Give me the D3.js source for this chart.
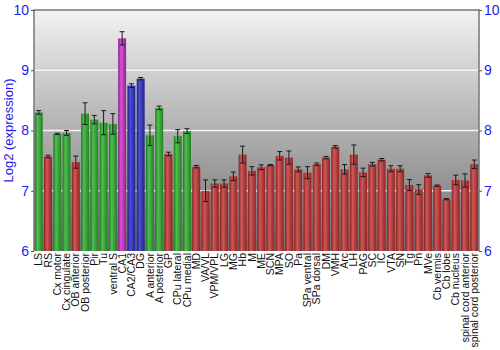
<!DOCTYPE html>
<html>
<head>
<meta charset="utf-8">
<script src="https://cdn.jsdelivr.net/npm/d3@7"></script>
<style>
  body { margin: 0; background: #fff; }
  text { font-family: "Liberation Sans", Arial, sans-serif; }
</style>
</head>
<body>
<div id="chart"></div>
<script>
const regions = ["LS", "RS", "Cx motor", "Cx cingulate", "OB anterior", "OB posterior", "Pir", "Tu",
  "ventral S", "CA1", "CA2/CA3", "DG", "A anterior", "A posterior", "GP", "CPu lateral", "CPu medial",
  "MD", "VA/VL", "VPM/VPL", "LG", "MG", "Hb", "M", "ME", "SCN", "MPA", "SO", "Pa", "SPa ventral",
  "SPa dorsal", "DM", "VMH", "Arc", "LH", "PAG", "SC", "IC", "VTA", "SN", "Tg", "Pn", "MVe",
  "Cb vermis", "Cb lobe", "Cb nucleus", "spinal cord anterior", "spinal cord posterior"];

const values = [8.30, 7.57, 7.945, 7.96, 7.475, 8.28, 8.18, 8.13,
  8.11, 9.53, 8.745, 8.86, 7.92, 8.375, 7.61, 7.905, 7.99,
  7.40, 7.00, 7.12, 7.12, 7.24, 7.60, 7.33, 7.39, 7.425, 7.58, 7.55, 7.355, 7.30,
  7.44, 7.55, 7.73, 7.355, 7.60, 7.305, 7.44, 7.515, 7.365, 7.365, 7.095, 7.02, 7.255,
  7.085, 6.86, 7.18, 7.17, 7.44];

const errors = [0.03, 0.02, 0.01, 0.04, 0.10, 0.18, 0.07, 0.20,
  0.17, 0.11, 0.03, 0.02, 0.17, 0.03, 0.03, 0.11, 0.04,
  0.02, 0.18, 0.06, 0.06, 0.07, 0.14, 0.07, 0.04, 0.01, 0.07, 0.11, 0.04, 0.10,
  0.02, 0.02, 0.02, 0.08, 0.16, 0.07, 0.03, 0.02, 0.05, 0.05, 0.09, 0.08, 0.03,
  0.01, 0.01, 0.08, 0.11, 0.07];

// g = green, r = red, m = magenta, b = blue
const groups = ["g", "r", "g", "g", "r", "g", "g", "g",
  "g", "m", "b", "b", "g", "g", "r", "g", "g",
  "r", "r", "r", "r", "r", "r", "r", "r", "r", "r", "r", "r", "r",
  "r", "r", "r", "r", "r", "r", "r", "r", "r", "r", "r", "r", "r",
  "r", "r", "r", "r", "r"];

const yTicks = [6, 7, 8, 9, 10];

const palette = {
  g: ["#1f7a1f", "#4fbf4f", "#237f23"],
  r: ["#8a1f1f", "#d05858", "#8e2424"],
  m: ["#8f1a8f", "#d555d5", "#941e94"],
  b: ["#1e1e8a", "#4d4dd2", "#22228f"]
};

const W = 500, H = 350;
const margin = { top: 10, right: 21, bottom: 99, left: 34 };
const width = W - margin.left - margin.right;
const height = H - margin.top - margin.bottom;

const svg = d3.select("#chart").append("svg")
  .attr("width", W)
  .attr("height", H);

const defs = svg.append("defs");
const bg = defs.append("linearGradient").attr("id", "bg")
  .attr("x1", 0).attr("y1", 0).attr("x2", 0).attr("y2", 1);
bg.append("stop").attr("offset", "0%").attr("stop-color", "#f2f2f2");
bg.append("stop").attr("offset", "100%").attr("stop-color", "#6e6e6e");

Object.keys(palette).forEach(k => {
  const lg = defs.append("linearGradient").attr("id", "bar-" + k)
    .attr("x1", 0).attr("y1", 0).attr("x2", 1).attr("y2", 0);
  lg.append("stop").attr("offset", "0%").attr("stop-color", palette[k][0]);
  lg.append("stop").attr("offset", "35%").attr("stop-color", palette[k][1]);
  lg.append("stop").attr("offset", "100%").attr("stop-color", palette[k][2]);
});

const g = svg.append("g").attr("transform", `translate(${margin.left},${margin.top})`);

const x = d3.scaleBand()
  .domain(regions)
  .range([0, width])
  .paddingInner(0.14)
  .paddingOuter(0.08);

const y = d3.scaleLinear()
  .domain([6, 10])
  .range([height, 0]);

g.append("rect")
  .attr("width", width)
  .attr("height", height)
  .attr("fill", "url(#bg)");

// gridlines
g.selectAll(".grid")
  .data(yTicks.filter(t => t > 6 && t < 10))
  .enter().append("line")
  .attr("x1", 0).attr("x2", width)
  .attr("y1", d => y(d)).attr("y2", d => y(d))
  .attr("stroke", "#f4f4f4")
  .attr("stroke-width", 1.5);

const data = regions.map((r, i) => ({ r, v: values[i], e: errors[i], c: groups[i] }));

g.selectAll(".bar")
  .data(data)
  .enter().append("rect")
  .attr("x", d => x(d.r))
  .attr("y", d => y(d.v))
  .attr("width", x.bandwidth())
  .attr("height", d => height - y(d.v))
  .attr("fill", d => `url(#bar-${d.c})`);

// error bars
const eb = g.selectAll(".err")
  .data(data)
  .enter().append("g")
  .attr("stroke", "#1a1a1a")
  .attr("stroke-width", 1);
eb.append("line")
  .attr("x1", d => x(d.r) + x.bandwidth() / 2)
  .attr("x2", d => x(d.r) + x.bandwidth() / 2)
  .attr("y1", d => y(d.v - d.e))
  .attr("y2", d => y(d.v + d.e));
[-1, 1].forEach(s => {
  eb.append("line")
    .attr("x1", d => x(d.r) + x.bandwidth() / 2 - 2.5)
    .attr("x2", d => x(d.r) + x.bandwidth() / 2 + 2.5)
    .attr("y1", d => y(d.v + s * d.e))
    .attr("y2", d => y(d.v + s * d.e));
});

// frame
g.append("path")
  .attr("d", `M0,${height}V0H${width}V${height}`)
  .attr("fill", "none")
  .attr("stroke", "#777")
  .attr("stroke-width", 1.5);

// axes
const left = g.append("g")
  .call(d3.axisLeft(y).tickValues(yTicks).tickSize(3).tickPadding(2).tickFormat(d3.format("d")));
const right = g.append("g")
  .attr("transform", `translate(${width},0)`)
  .call(d3.axisRight(y).tickValues(yTicks).tickSize(3).tickPadding(2).tickFormat(d3.format("d")));
[left, right].forEach(a => {
  a.select(".domain").remove();
  a.selectAll("line").attr("stroke", "#555");
  a.selectAll("text").attr("fill", "#1c1cf0").style("font-size", "14px");
});

const bottom = g.append("g")
  .attr("transform", `translate(0,${height})`)
  .call(d3.axisBottom(x).tickSize(0).tickPadding(0));
bottom.select(".domain").remove();
bottom.selectAll("text")
  .attr("transform", "rotate(-90)")
  .attr("text-anchor", "end")
  .attr("x", -2)
  .attr("y", 0)
  .attr("dy", "0.35em")
  .attr("fill", "#111")
  .style("font-size", "10.5px");

svg.append("text")
  .attr("transform", "rotate(-90)")
  .attr("x", -(margin.top + height / 2))
  .attr("y", 13)
  .attr("text-anchor", "middle")
  .attr("fill", "#1c1cf0")
  .style("font-size", "13px")
  .text("Log2 (expression)");
</script>
</body>
</html>
